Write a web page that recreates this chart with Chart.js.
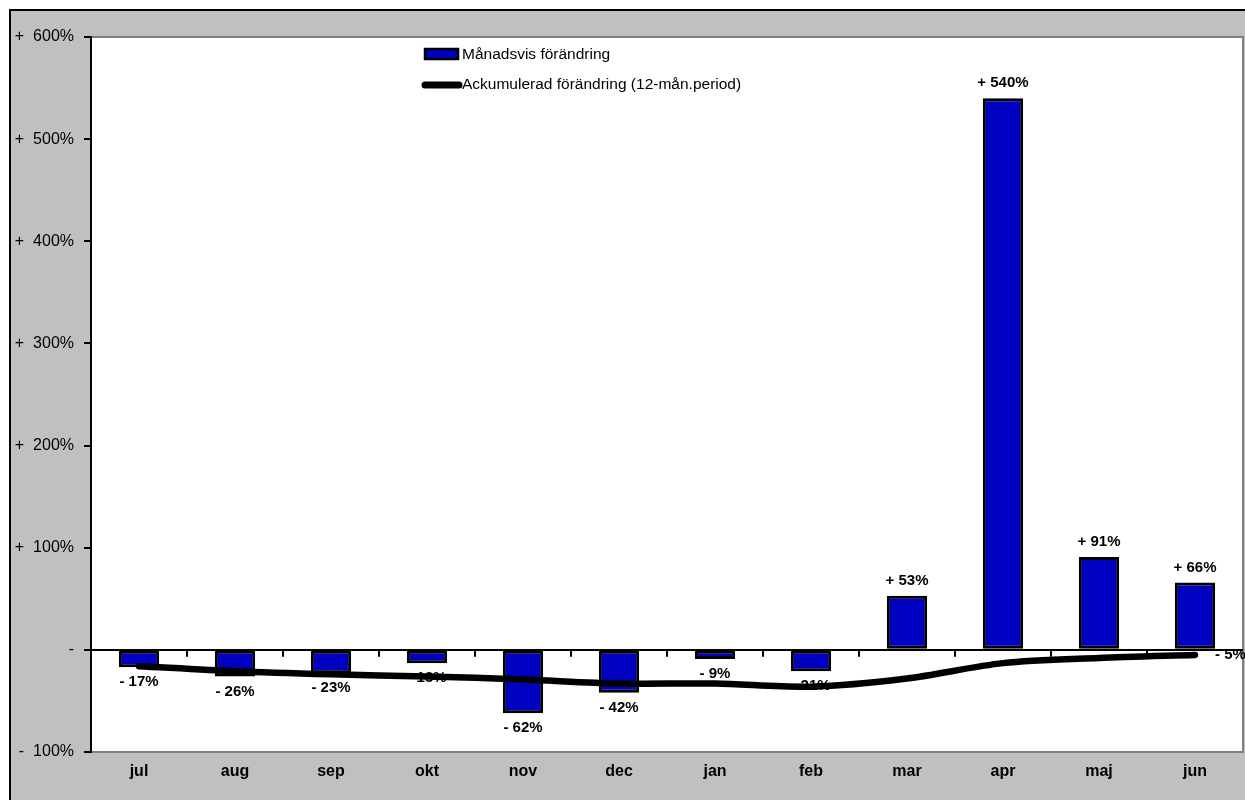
<!DOCTYPE html>
<html>
<head>
<meta charset="utf-8">
<script src="https://cdn.jsdelivr.net/npm/chart.js@4.4.1/dist/chart.umd.min.js"></script>
<style>
  body { margin: 0; background: #fff; }
  #wrap { width: 1245px; height: 800px; }
</style>
</head>
<body>
<div id="wrap"><canvas id="chart" width="1245" height="800"></canvas></div>
<script>
const months = ['jul', 'aug', 'sep', 'okt', 'nov', 'dec', 'jan', 'feb', 'mar', 'apr', 'maj', 'jun'];
const monthlyChange = [-17, -26, -23, -13, -62, -42, -9, -21, 53, 540, 91, 66];
const accumulatedChange = [-16, -21, -24, -26, -29, -33, -33, -36, -28, -13, -8, -5];
const yTicks = [-100, 0, 100, 200, 300, 400, 500, 600];

const fmtPct = (v) => (v > 0 ? '+ ' : '- ') + Math.abs(v) + '%';

// grey frame, white plot area, plot border
const framePlugin = {
    id: 'frame',
    beforeDraw(chart) {
        const ctx = chart.ctx;
        const a = chart.chartArea;
        ctx.save();
        ctx.fillStyle = '#ffffff';
        ctx.fillRect(0, 0, chart.width, chart.height);
        ctx.fillStyle = '#c0c0c0';
        ctx.fillRect(10, 10, chart.width, chart.height);
        ctx.strokeStyle = '#000';
        ctx.lineWidth = 2;
        ctx.beginPath();
        ctx.moveTo(10, chart.height + 5);
        ctx.lineTo(10, 10);
        ctx.lineTo(chart.width + 5, 10);
        ctx.stroke();
        ctx.fillStyle = '#ffffff';
        ctx.fillRect(a.left, a.top, a.right - a.left, a.bottom - a.top);
        ctx.strokeStyle = '#808080';
        ctx.beginPath();
        ctx.moveTo(a.left, a.top);
        ctx.lineTo(a.right, a.top);
        ctx.lineTo(a.right, a.bottom);
        ctx.stroke();
        ctx.restore();
    },
    beforeDatasetsDraw(chart) {
        // category tick marks on the zero line
        const ctx = chart.ctx;
        const x = chart.scales.x;
        const y0 = chart.scales.y.getPixelForValue(0);
        ctx.save();
        ctx.strokeStyle = '#000';
        ctx.lineWidth = 2;
        ctx.beginPath();
        for (let i = 0; i < months.length - 1; i++) {
            const px = (x.getPixelForValue(i) + x.getPixelForValue(i + 1)) / 2;
            ctx.moveTo(px, y0);
            ctx.lineTo(px, y0 + 7);
        }
        ctx.stroke();
        ctx.restore();
    },
    afterDatasetDraw(chart, args) {
        const ctx = chart.ctx;
        ctx.save();
        ctx.fillStyle = '#000';
        ctx.font = 'bold 15px "Liberation Sans", Arial, sans-serif';
        ctx.textBaseline = 'middle';
        if (args.index === 1) {
            ctx.textAlign = 'center';
            args.meta.data.forEach((bar, i) => {
                const v = monthlyChange[i];
                const ty = v >= 0 ? bar.y - 15 : bar.y + 15;
                ctx.fillText(fmtPct(v), bar.x, ty);
            });
        } else if (args.index === 0) {
            const last = args.meta.data.length - 1;
            const pt = args.meta.data[last];
            ctx.textAlign = 'left';
            ctx.fillText(fmtPct(accumulatedChange[last]), pt.x + 20, pt.y);
        }
        ctx.restore();
    },
    afterDraw(chart) {
        // legend inside the plot area
        const ctx = chart.ctx;
        ctx.save();
        ctx.font = '15.5px "Liberation Sans", Arial, sans-serif';
        ctx.textBaseline = 'middle';
        ctx.textAlign = 'left';
        ctx.fillStyle = '#0000c0';
        ctx.fillRect(425, 49, 33, 10);
        ctx.strokeStyle = '#000';
        ctx.lineWidth = 2.5;
        ctx.strokeRect(425, 49, 33, 10);
        ctx.fillStyle = '#000';
        ctx.fillText(chart.data.datasets[1].label, 462, 55);
        ctx.lineWidth = 7;
        ctx.lineCap = 'round';
        ctx.beginPath();
        ctx.moveTo(425, 85);
        ctx.lineTo(459, 85);
        ctx.stroke();
        ctx.fillText(chart.data.datasets[0].label, 462, 85);
        ctx.restore();
    }
};

new Chart(document.getElementById('chart'), {
    type: 'bar',
    data: {
        labels: months,
        datasets: [
            {
                type: 'line',
                label: 'Ackumulerad förändring (12-mån.period)',
                data: accumulatedChange,
                borderColor: '#000',
                borderWidth: 6.5,
                borderCapStyle: 'round',
                pointRadius: 0,
                tension: 0.3,
                fill: false,
                order: 0
            },
            {
                label: 'Månadsvis förändring',
                data: monthlyChange,
                backgroundColor: '#0000c0',
                borderColor: '#000',
                borderWidth: 3,
                borderSkipped: false,
                barPercentage: 0.42,
                categoryPercentage: 1,
                order: 1
            }
        ]
    },
    options: {
        responsive: false,
        animation: false,
        devicePixelRatio: 1,
        layout: { padding: { left: 9, top: 37, right: 2, bottom: 0 } },
        scales: {
            x: {
                afterFit: (scale) => { scale.height = 48; },
                grid: { display: false, drawTicks: false },
                border: { color: '#808080', width: 2 },
                ticks: {
                    padding: 10,
                    color: '#000',
                    font: { family: '"Liberation Sans", Arial, sans-serif', size: 16, weight: 'bold' }
                }
            },
            y: {
                min: -100,
                max: 600,
                afterFit: (scale) => { scale.width = 82; },
                afterBuildTicks: (scale) => { scale.ticks = yTicks.map(v => ({ value: v })); },
                border: { color: '#000', width: 2 },
                grid: {
                    color: (c) => (c.tick && c.tick.value === 0 ? '#000' : 'rgba(0,0,0,0)'),
                    tickColor: '#000',
                    lineWidth: 2,
                    tickLength: 7
                },
                ticks: {
                    padding: 10,
                    color: '#000',
                    font: { family: '"Liberation Sans", Arial, sans-serif', size: 16 },
                    callback: (v) => (v === 0 ? '-' : (v > 0 ? '+  ' : '-  ') + Math.abs(v) + '%')
                }
            }
        },
        plugins: {
            legend: { display: false },
            tooltip: { enabled: false }
        }
    },
    plugins: [framePlugin]
});
</script>
</body>
</html>
